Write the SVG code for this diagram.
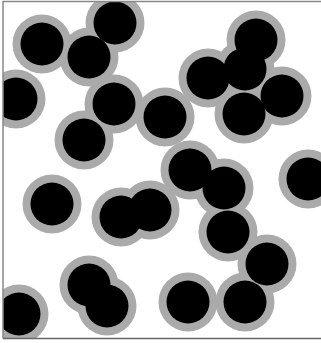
<svg xmlns="http://www.w3.org/2000/svg" width="321" height="343" viewBox="0 0 321 343">
<style>
.halo{fill:#aaaaaa}
.core{fill:#000000}
</style>
<defs>
<clipPath id="box"><rect x="3" y="2" width="330" height="336"/></clipPath>
</defs>
<rect width="321" height="343" fill="#ffffff"/>
<g clip-path="url(#box)">
<g id="halos" class="halo">
<circle cx="42" cy="44" r="29.5"/>
<circle cx="89" cy="57" r="29.5"/>
<circle cx="115" cy="23" r="29.5"/>
<circle cx="16" cy="99" r="29.5"/>
<circle cx="114" cy="104" r="29.5"/>
<circle cx="84" cy="140" r="29.5"/>
<circle cx="165" cy="117" r="29.5"/>
<circle cx="256" cy="40" r="29.5"/>
<circle cx="208" cy="78" r="29.5"/>
<circle cx="245" cy="69" r="29.5"/>
<circle cx="282" cy="96" r="29.5"/>
<circle cx="244" cy="114" r="29.5"/>
<circle cx="190" cy="170" r="29.5"/>
<circle cx="224" cy="188" r="29.5"/>
<circle cx="308" cy="179" r="29.5"/>
<circle cx="52" cy="204" r="29.5"/>
<circle cx="121" cy="217" r="29.5"/>
<circle cx="150" cy="210" r="29.5"/>
<circle cx="228" cy="232" r="29.5"/>
<circle cx="267" cy="264" r="29.5"/>
<circle cx="188" cy="302" r="29.5"/>
<circle cx="245" cy="302" r="29.5"/>
<circle cx="89" cy="285" r="29.5"/>
<circle cx="107" cy="306" r="29.5"/>
<circle cx="19" cy="314" r="29.5"/>
</g>
<g id="cores" class="core">
<circle id="n1" cx="42" cy="44" r="21.5"/>
<circle id="n2" cx="89" cy="57" r="21.5"/>
<circle id="n3" cx="115" cy="23" r="21.5"/>
<circle id="n4" cx="16" cy="99" r="21.5"/>
<circle id="n5" cx="114" cy="104" r="21.5"/>
<circle id="n6" cx="84" cy="140" r="21.5"/>
<circle id="n7" cx="165" cy="117" r="21.5"/>
<circle id="n8" cx="256" cy="40" r="21.5"/>
<circle id="n9" cx="208" cy="78" r="21.5"/>
<circle id="n10" cx="245" cy="69" r="21.5"/>
<circle id="n11" cx="282" cy="96" r="21.5"/>
<circle id="n12" cx="244" cy="114" r="21.5"/>
<circle id="n13" cx="190" cy="170" r="21.5"/>
<circle id="n14" cx="224" cy="188" r="21.5"/>
<circle id="n15" cx="308" cy="179" r="21.5"/>
<circle id="n16" cx="52" cy="204" r="21.5"/>
<circle id="n17" cx="121" cy="217" r="21.5"/>
<circle id="n18" cx="150" cy="210" r="21.5"/>
<circle id="n19" cx="228" cy="232" r="21.5"/>
<circle id="n20" cx="267" cy="264" r="21.5"/>
<circle id="n21" cx="188" cy="302" r="21.5"/>
<circle id="n22" cx="245" cy="302" r="21.5"/>
<circle id="n23" cx="89" cy="285" r="21.5"/>
<circle id="n24" cx="107" cy="306" r="21.5"/>
<circle id="n25" cx="19" cy="314" r="21.5"/>
</g>
</g>
<g id="frame" fill="none" stroke="#888888" stroke-width="1.5">
<path d="M3 338.5 L3 1.5 L321 1.5"/>
<path d="M3 338.5 L321 338.5" stroke="#666666"/>
</g>
</svg>
